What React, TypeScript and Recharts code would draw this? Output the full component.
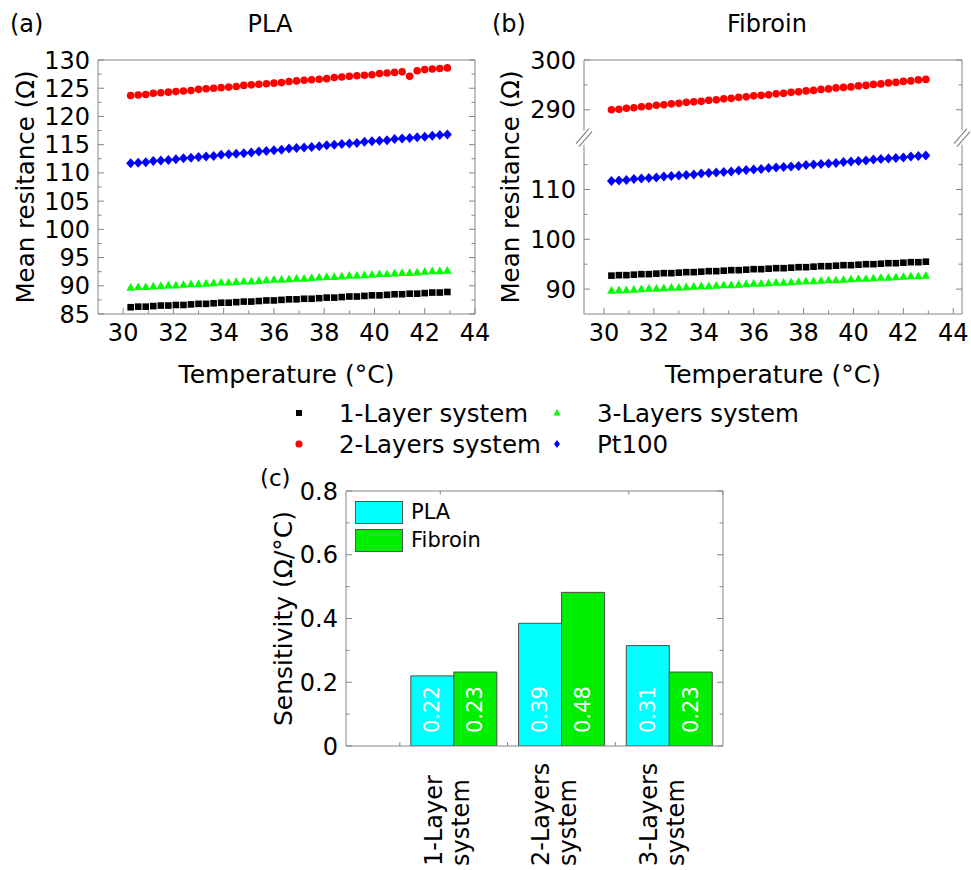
import React from "react";
import {
  ScatterChart,
  Scatter,
  BarChart,
  Bar,
  XAxis,
  YAxis,
  ReferenceDot,
  LabelList,
  Legend,
} from "recharts";

const FONT = '"DejaVu Sans", Verdana, sans-serif';
const FRAME = "#858585";

// temperature steps (°C), shared by every scatter series
const temperature = [
  30.3, 30.6, 30.9, 31.2, 31.5, 31.8, 32.1, 32.4, 32.7, 33.0, 33.3, 33.6, 33.9, 34.2, 34.5,
  34.8, 35.1, 35.4, 35.7, 36.0, 36.3, 36.6, 36.9, 37.2, 37.5, 37.8, 38.1, 38.4, 38.7, 39.0,
  39.3, 39.6, 39.9, 40.2, 40.5, 40.8, 41.1, 41.4, 41.7, 42.0, 42.3, 42.6, 42.9,
];

// (a) PLA
const plaOneLayer = [
  86.2, 86.3, 86.3, 86.4, 86.5, 86.5, 86.6, 86.6, 86.7, 86.8, 86.8, 86.9, 87.0, 87.0, 87.1,
  87.2, 87.2, 87.3, 87.4, 87.4, 87.5, 87.6, 87.6, 87.7, 87.7, 87.8, 87.9, 87.9, 88.0, 88.1,
  88.1, 88.2, 88.3, 88.3, 88.4, 88.5, 88.5, 88.6, 88.6, 88.7, 88.8, 88.8, 88.9,
];
const plaTwoLayers = [
  123.7, 123.8, 123.9, 124.1, 124.2, 124.3, 124.4, 124.5, 124.6, 124.8, 124.9, 125.0, 125.1,
  125.2, 125.3, 125.5, 125.6, 125.7, 125.8, 125.9, 126.0, 126.2, 126.3, 126.4, 126.5, 126.6,
  126.7, 126.9, 127.0, 127.1, 127.2, 127.3, 127.4, 127.6, 127.7, 127.8, 127.9, 127.1, 128.1,
  128.3, 128.4, 128.5, 128.6,
];
const plaThreeLayers = [
  89.7, 89.8, 89.8, 89.9, 90.0, 90.1, 90.1, 90.2, 90.3, 90.3, 90.4, 90.5, 90.6, 90.6, 90.7,
  90.8, 90.8, 90.9, 91.0, 91.1, 91.1, 91.2, 91.3, 91.3, 91.4, 91.5, 91.6, 91.6, 91.7, 91.8,
  91.8, 91.9, 92.0, 92.1, 92.1, 92.2, 92.3, 92.3, 92.4, 92.5, 92.6, 92.6, 92.7,
];
// reference sensor, same in both panels
const pt100 = [
  111.7, 111.8, 111.9, 112.1, 112.2, 112.3, 112.4, 112.6, 112.7, 112.8, 112.9, 113.0, 113.2,
  113.3, 113.4, 113.5, 113.6, 113.8, 113.9, 114.0, 114.1, 114.3, 114.4, 114.5, 114.6, 114.7,
  114.9, 115.0, 115.1, 115.2, 115.3, 115.5, 115.6, 115.7, 115.8, 116.0, 116.1, 116.2, 116.3,
  116.4, 116.6, 116.7, 116.8,
];

// (b) Fibroin
const fibOneLayer = [
  92.7, 92.8, 92.8, 92.9, 93.0, 93.0, 93.1, 93.2, 93.2, 93.3, 93.4, 93.4, 93.5, 93.6, 93.6,
  93.7, 93.8, 93.8, 93.9, 94.0, 94.0, 94.1, 94.2, 94.2, 94.3, 94.4, 94.4, 94.5, 94.6, 94.6,
  94.7, 94.8, 94.8, 94.9, 95.0, 95.0, 95.1, 95.2, 95.2, 95.3, 95.4, 95.4, 95.5,
];
const fibTwoLayers = [
  290.0, 290.1, 290.3, 290.4, 290.6, 290.7, 290.9, 291.0, 291.2, 291.3, 291.5, 291.6, 291.7,
  291.9, 292.0, 292.2, 292.3, 292.5, 292.6, 292.8, 292.9, 293.0, 293.2, 293.3, 293.5, 293.6,
  293.8, 293.9, 294.1, 294.2, 294.4, 294.5, 294.6, 294.8, 294.9, 295.1, 295.2, 295.4, 295.5,
  295.7, 295.8, 296.0, 296.1,
];
const fibThreeLayers = [
  89.7, 89.8, 89.8, 89.9, 90.0, 90.1, 90.1, 90.2, 90.3, 90.3, 90.4, 90.5, 90.6, 90.6, 90.7,
  90.8, 90.8, 90.9, 91.0, 91.1, 91.1, 91.2, 91.3, 91.3, 91.4, 91.5, 91.6, 91.6, 91.7, 91.8,
  91.8, 91.9, 92.0, 92.1, 92.1, 92.2, 92.3, 92.3, 92.4, 92.5, 92.6, 92.6, 92.7,
];

const seriesNames = ["1-Layer system", "2-Layers system", "3-Layers system", "Pt100"];

// axis ticks
const tempTicks = [30, 31, 32, 33, 34, 35, 36, 37, 38, 39, 40, 41, 42, 43, 44];
const tempMajors = [30, 32, 34, 36, 38, 40, 42, 44];
const plaTicks = [85, 87.5, 90, 92.5, 95, 97.5, 100, 102.5, 105, 107.5, 110, 112.5, 115, 117.5, 120, 122.5, 125, 127.5, 130];
const plaMajors = [85, 90, 95, 100, 105, 110, 115, 120, 125, 130];
const fibTicks = [90, 95, 100, 105, 110, 115, 290, 295, 300];
const fibMajors = [90, 100, 110, 290, 300];

// (c) sensitivity
const systems = ["1-Layer system", "2-Layers system", "3-Layers system"];
const materials = ["PLA", "Fibroin"];
const plaSens = [0.22, 0.385, 0.315];
const fibSens = [0.232, 0.482, 0.232];
const plaSensLabel = ["0.22", "0.39", "0.31"];
const fibSensLabel = ["0.23", "0.48", "0.23"];
const sensTicks = [0, 0.1, 0.2, 0.3, 0.4, 0.5, 0.6, 0.7, 0.8];
const sensMajors = [0, 0.2, 0.4, 0.6, 0.8];

// broken y axis in (b): values above the gap are shifted down
const BREAK_SHIFT = 164;
const toAxis = (v: number) => (v > 200 ? v - BREAK_SHIFT : v);
const fromAxis = (v: number) => (v > 120.5 ? v + BREAK_SHIFT : v);

const pts = (ys: number[], map = (v: number) => v) =>
  temperature.map((t, i) => ({ t, r: map(ys[i]) }));

// markers
const Square = (p: any) => <rect x={p.cx - 3.3} y={p.cy - 3.3} width={6.6} height={6.6} fill="#000000" />;
const Circle = (p: any) => <circle cx={p.cx} cy={p.cy} r={3.8} fill="#ff0000" />;
const Triangle = (p: any) => (
  <polygon points={`${p.cx},${p.cy - 4.5} ${p.cx + 4.3},${p.cy + 3.2} ${p.cx - 4.3},${p.cy + 3.2}`} fill="#00ff00" />
);
const Diamond = (p: any) => (
  <polygon points={`${p.cx},${p.cy - 5} ${p.cx + 4.5},${p.cy} ${p.cx},${p.cy + 5} ${p.cx - 4.5},${p.cy}`} fill="#0000ff" />
);

type Side = "left" | "right" | "top" | "bottom";
const near = (a: number, list: number[]) => list.some((m) => Math.abs(m - a) < 1e-6);

// inward tick marks, with labels for the major ticks on left / bottom
function makeTick(side: Side, majors: number[], label?: (v: number) => string, fontSize = 24) {
  return (props: any) => {
    const { x, y, payload } = props;
    const v = payload.value;
    const major = near(v, majors);
    const len = major ? 6 : 3.5;
    let line;
    if (side === "left") line = <line x1={x} y1={y} x2={x + len} y2={y} stroke={FRAME} />;
    else if (side === "right") line = <line x1={x} y1={y} x2={x - len} y2={y} stroke={FRAME} />;
    else if (side === "top") line = <line x1={x} y1={y} x2={x} y2={y + len} stroke={FRAME} />;
    else line = <line x1={x} y1={y} x2={x} y2={y - len} stroke={FRAME} />;
    let text = null;
    if (label && major) {
      if (side === "left")
        text = (
          <text x={x - 8} y={y + 8.5} textAnchor="end" fontSize={fontSize} fill="#000">
            {label(v)}
          </text>
        );
      else if (side === "bottom")
        text = (
          <text x={x} y={y + 27} textAnchor="middle" fontSize={fontSize} fill="#000">
            {label(v)}
          </text>
        );
    }
    return (
      <g>
        {line}
        {text}
      </g>
    );
  };
}

const BreakMark = (p: any) => {
  const { cx, cy } = p;
  return (
    <g>
      <rect x={cx - 3} y={cy - 7} width={6} height={14} fill="#ffffff" />
      <line x1={cx - 8} y1={cy + 6} x2={cx + 5} y2={cy - 9} stroke={FRAME} strokeWidth={1.2} />
      <line x1={cx - 5} y1={cy + 9} x2={cx + 8} y2={cy - 6} stroke={FRAME} strokeWidth={1.2} />
    </g>
  );
};

const labelStyle = { fontSize: 24.5, fill: "#000", fontFamily: FONT };

function PlaChart() {
  return (
    <ScatterChart width={490} height={400} margin={{ top: 55, right: 10, bottom: 16, left: 13 }}>
      <XAxis
        type="number"
        dataKey="t"
        domain={[29, 44]}
        ticks={tempTicks}
        interval={0}
        allowDataOverflow
        height={70}
        tickSize={0}
        tickMargin={0}
        stroke={FRAME}
        tick={makeTick("bottom", tempMajors, (v) => String(v))}
        label={{ value: "Temperature (°C)", position: "insideBottom", offset: 1, style: { ...labelStyle, fontSize: 25 } }}
      />
      <XAxis xAxisId="top" orientation="top" type="number" domain={[29, 44]} ticks={tempTicks} interval={0} allowDataOverflow height={5} tickSize={0} tickMargin={0} stroke={FRAME} tick={makeTick("top", tempMajors)} />
      <YAxis
        type="number"
        dataKey="r"
        domain={[85, 130]}
        ticks={plaTicks}
        interval={0}
        allowDataOverflow
        width={85}
        tickSize={0}
        tickMargin={0}
        stroke={FRAME}
        tick={makeTick("left", plaMajors, (v) => String(v))}
        label={{ value: "Mean resitance (Ω)", angle: -90, position: "insideLeft", offset: 12, style: { ...labelStyle, textAnchor: "middle" } }}
      />
      <YAxis yAxisId="right" orientation="right" type="number" domain={[85, 130]} ticks={plaTicks} interval={0} allowDataOverflow width={5} tickSize={0} tickMargin={0} stroke={FRAME} tick={makeTick("right", plaMajors)} />
      <Scatter name={seriesNames[0]} data={pts(plaOneLayer)} shape={Square} isAnimationActive={false} />
      <Scatter name={seriesNames[2]} data={pts(plaThreeLayers)} shape={Triangle} isAnimationActive={false} />
      <Scatter name={seriesNames[3]} data={pts(pt100)} shape={Diamond} isAnimationActive={false} />
      <Scatter name={seriesNames[1]} data={pts(plaTwoLayers)} shape={Circle} isAnimationActive={false} />
    </ScatterChart>
  );
}

function FibroinChart() {
  const yTicks = fibTicks.map(toAxis);
  const yMajors = fibMajors.map(toAxis);
  const fmt = (v: number) => String(Math.round(fromAxis(v)));
  return (
    <ScatterChart width={491} height={400} margin={{ top: 55, right: 4, bottom: 16, left: 14 }}>
      <XAxis
        type="number"
        dataKey="t"
        domain={[29.2, 44.35]}
        ticks={tempTicks}
        interval={0}
        allowDataOverflow
        height={70}
        tickSize={0}
        tickMargin={0}
        stroke={FRAME}
        tick={makeTick("bottom", tempMajors, (v) => String(v))}
        label={{ value: "Temperature (°C)", position: "insideBottom", offset: 1, style: { ...labelStyle, fontSize: 25 } }}
      />
      <XAxis xAxisId="top" orientation="top" type="number" domain={[29.2, 44.35]} ticks={tempTicks} interval={0} allowDataOverflow height={5} tickSize={0} tickMargin={0} stroke={FRAME} tick={makeTick("top", tempMajors)} />
      <YAxis
        type="number"
        dataKey="r"
        domain={[85, 136]}
        ticks={yTicks}
        interval={0}
        allowDataOverflow
        width={90}
        tickSize={0}
        tickMargin={0}
        stroke={FRAME}
        tick={makeTick("left", yMajors, fmt)}
        label={{ value: "Mean resitance (Ω)", angle: -90, position: "insideLeft", offset: 16, style: { ...labelStyle, textAnchor: "middle" } }}
      />
      <YAxis yAxisId="right" orientation="right" type="number" domain={[85, 136]} ticks={yTicks} interval={0} allowDataOverflow width={5} tickSize={0} tickMargin={0} stroke={FRAME} tick={makeTick("right", yMajors)} />
      <Scatter name={seriesNames[2]} data={pts(fibThreeLayers)} shape={Triangle} isAnimationActive={false} />
      <Scatter name={seriesNames[0]} data={pts(fibOneLayer)} shape={Square} isAnimationActive={false} />
      <Scatter name={seriesNames[3]} data={pts(pt100)} shape={Diamond} isAnimationActive={false} />
      <Scatter name={seriesNames[1]} data={pts(fibTwoLayers, toAxis)} shape={Circle} isAnimationActive={false} />
      <ReferenceDot x={29.2} y={120.4} ifOverflow="visible" shape={BreakMark} />
      <ReferenceDot x={44.35} y={120.4} ifOverflow="visible" shape={BreakMark} />
    </ScatterChart>
  );
}

const barData = systems.map((name, i) => ({
  pos: i + 1,
  name,
  pla: plaSens[i],
  fibroin: fibSens[i],
  plaLabel: plaSensLabel[i],
  fibLabel: fibSensLabel[i],
}));

const BarValue = (p: any) => {
  const cx = p.x + p.width / 2;
  const bottom = p.y + p.height;
  return (
    <text transform={`translate(${cx + 7},${bottom - 13}) rotate(-90)`} textAnchor="start" fontSize={21} fill="#ffffff">
      {p.value}
    </text>
  );
};

const CategoryTick = (props: any) => {
  const { x, y, payload } = props;
  const v = payload.value;
  if (Math.abs(v - Math.round(v)) > 1e-6) {
    return <line x1={x} y1={y} x2={x} y2={y - 4} stroke={FRAME} />;
  }
  const name = systems[Math.round(v) - 1];
  if (!name) return null;
  const [first, second] = name.split(" ");
  return (
    <text transform={`translate(${x},${y + 120}) rotate(-90)`} textAnchor="start" fontSize={24} fill="#000">
      <tspan x={0} y={-12}>{first}</tspan>
      <tspan x={0} y={15}>{second}</tspan>
    </text>
  );
};

const BarLegend = (props: any) => {
  const entries = [...(props.payload || [])].sort(
    (a: any, b: any) => materials.indexOf(a.value) - materials.indexOf(b.value)
  );
  return (
    <div style={{ fontFamily: FONT }}>
      {entries.map((e: any) => (
        <div key={e.value} style={{ display: "flex", alignItems: "center", height: 27.7 }}>
          <div style={{ width: 46, height: 21, background: e.color, border: "1px solid #555" }} />
          <span style={{ marginLeft: 8, fontSize: 21, color: "#000", lineHeight: "23px" }}>{e.value}</span>
        </div>
      ))}
    </div>
  );
};

function SensitivityChart() {
  return (
    <BarChart width={500} height={410} data={barData} barGap={0} barSize={43} margin={{ top: 26, right: 22, bottom: 4, left: 16 }}>
      <XAxis
        type="number"
        dataKey="pos"
        domain={[0, 3.5]}
        ticks={[0.5, 1, 1.5, 2, 2.5, 3]}
        interval={0}
        allowDataOverflow
        height={120}
        tickSize={0}
        tickMargin={0}
        stroke={FRAME}
        tick={CategoryTick}
      />
      <XAxis xAxisId="top" orientation="top" type="number" domain={[0, 3.5]} ticks={[0.5, 1.5, 2, 2.5, 3]} interval={0} allowDataOverflow height={5} tickSize={0} tickMargin={0} stroke={FRAME} tick={makeTick("top", [])} />
      <YAxis
        type="number"
        domain={[0, 0.8]}
        ticks={sensTicks}
        interval={0}
        allowDataOverflow
        width={80}
        tickSize={0}
        tickMargin={0}
        stroke={FRAME}
        tick={makeTick("left", sensMajors, (v) => (v === 0 ? "0" : v.toFixed(1)))}
        label={{ value: "Sensitivity (Ω/°C)", angle: -90, position: "insideLeft", offset: 17, style: { ...labelStyle, fontSize: 25, textAnchor: "middle" } }}
      />
      <YAxis yAxisId="right" orientation="right" type="number" domain={[0, 0.8]} ticks={sensTicks} interval={0} allowDataOverflow width={5} tickSize={0} tickMargin={0} stroke={FRAME} tick={makeTick("right", sensMajors)} />
      <Legend layout="vertical" align="center" verticalAlign="middle" wrapperStyle={{ left: 105, top: 39, width: 160 }} content={BarLegend} />
      <Bar dataKey="pla" name={materials[0]} fill="#00ffff" stroke="#4d4d4d" strokeWidth={1} isAnimationActive={false}>
        <LabelList dataKey="plaLabel" content={BarValue} />
      </Bar>
      <Bar dataKey="fibroin" name={materials[1]} fill="#00ee00" stroke="#4d4d4d" strokeWidth={1} isAnimationActive={false}>
        <LabelList dataKey="fibLabel" content={BarValue} />
      </Bar>
    </BarChart>
  );
}

// shared legend for panels (a) and (b)
const legendItems = [
  { name: seriesNames[0], col: 0, row: 0, Marker: (cx: number, cy: number) => <rect x={cx - 3} y={cy - 3} width={6} height={6} fill="#000" /> },
  { name: seriesNames[2], col: 1, row: 0, Marker: (cx: number, cy: number) => <polygon points={`${cx},${cy - 4} ${cx + 3.5},${cy + 2.5} ${cx - 3.5},${cy + 2.5}`} fill="#00ff00" /> },
  { name: seriesNames[1], col: 0, row: 1, Marker: (cx: number, cy: number) => <circle cx={cx} cy={cy} r={3.6} fill="#ff0000" /> },
  { name: seriesNames[3], col: 1, row: 1, Marker: (cx: number, cy: number) => <polygon points={`${cx},${cy - 4} ${cx + 3},${cy} ${cx},${cy + 4} ${cx - 3},${cy}`} fill="#0000ff" /> },
];

export default function App() {
  return (
    <div style={{ position: "absolute", left: 0, top: 0, width: 971, height: 870, background: "#ffffff", fontFamily: FONT, overflow: "hidden" }}>
      <div style={{ position: "absolute", left: 0, top: 0 }}>
        <PlaChart />
      </div>
      <div style={{ position: "absolute", left: 480, top: 0 }}>
        <FibroinChart />
      </div>
      <div style={{ position: "absolute", left: 250, top: 460 }}>
        <SensitivityChart />
      </div>
      <svg width={971} height={870} style={{ position: "absolute", left: 0, top: 0, pointerEvents: "none" }} fontFamily={FONT}>
        <text x={10} y={32} fontSize={24}>(a)</text>
        <text x={270} y={32} fontSize={24} textAnchor="middle">PLA</text>
        <text x={492} y={32} fontSize={24}>(b)</text>
        <text x={767} y={32} fontSize={24} textAnchor="middle">Fibroin</text>
        <text x={260} y={486} fontSize={23}>(c)</text>
        {legendItems.map((it) => {
          const mx = it.col === 0 ? 299 : 557;
          const cy = it.row === 0 ? 413 : 444;
          return (
            <g key={it.name}>
              {it.Marker(mx, cy)}
              <text x={mx + 40} y={cy + 8.5} fontSize={24.5}>{it.name}</text>
            </g>
          );
        })}
      </svg>
    </div>
  );
}
